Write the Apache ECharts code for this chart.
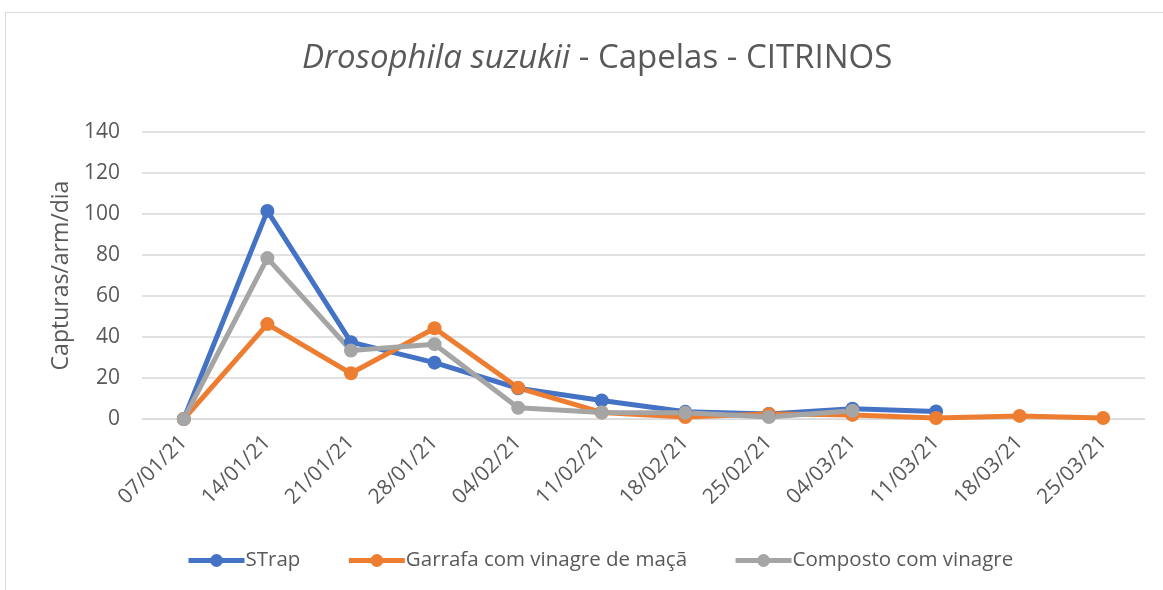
<!DOCTYPE html>
<html>
<head>
<meta charset="utf-8">
<script src="https://cdn.jsdelivr.net/npm/echarts@6/dist/echarts.min.js"></script>
<style>
  html, body { margin: 0; padding: 0; background: #fff; }
  #chart { width: 1163px; height: 590px; }
  .frame { position: absolute; left: 5px; top: 12px; width: 1170px; height: 600px; border: 1px solid #d9d9d9; pointer-events: none; }
</style>
</head>
<body>
<div class="frame"></div>
<div id="chart"></div>
<script>
// datas das recolhas
const dates = ['07/01/21', '14/01/21', '21/01/21', '28/01/21', '04/02/21', '11/02/21',
  '18/02/21', '25/02/21', '04/03/21', '11/03/21', '18/03/21', '25/03/21'];

// capturas por armadilha por dia
const strap = [0, 101.5, 37.5, 27.5, 15, 9, 3.5, 2.5, 5, 3.7, null, null];
const garrafa = [0, 46.3, 22.3, 44.3, 15.2, 3.2, 1, 2.5, 2, 0.5, 1.5, 0.5];
const composto = [0, 78.5, 33.4, 36.5, 5.5, 3.2, 3, 1, 4, null, null, null];

const yTicks = { min: 0, max: 140, interval: 20 };

const txt = '#595959';
const font = '"Open Sans", "Liberation Sans", sans-serif';

const chart = echarts.init(document.getElementById('chart'));

const mkSeries = (name, data, color) => ({
  name: name,
  type: 'line',
  data: data,
  symbol: 'circle',
  symbolSize: 14,
  connectNulls: false,
  lineStyle: { width: 5, color: color },
  itemStyle: { color: color },
  emphasis: { disabled: true }
});

chart.setOption({
  animation: false,
  textStyle: { fontFamily: font },
  title: {
    text: '{i|Drosophila suzukii} - Capelas - CITRINOS',
    left: 297,
    top: 37,
    textStyle: {
      fontFamily: font,
      fontSize: 33,
      fontWeight: 'normal',
      color: txt,
      rich: {
        i: { fontFamily: font, fontSize: 33, fontStyle: 'italic', color: txt }
      }
    }
  },
  legend: {
    top: 545,
    left: 181,
    itemGap: 46,
    itemWidth: 56,
    itemHeight: 16,
    lineStyle: { width: 5 },
    textStyle: { fontFamily: font, fontSize: 20.5, color: txt, padding: [0, 0, 0, -4] },
    data: ['STrap', 'Garrafa com vinagre de maçã', 'Composto com vinagre']
  },
  grid: { left: 142, right: 18, top: 132, bottom: 171 },
  xAxis: {
    type: 'category',
    data: dates,
    boundaryGap: true,
    axisLine: { lineStyle: { color: '#d9d9d9', width: 1 } },
    axisTick: { show: false },
    axisLabel: { rotate: 45, fontSize: 21, color: txt, fontFamily: font, margin: 20 }
  },
  yAxis: {
    type: 'value',
    min: yTicks.min,
    max: yTicks.max,
    interval: yTicks.interval,
    name: 'Capturas/arm/dia',
    nameLocation: 'middle',
    nameGap: 68,
    nameTextStyle: { fontSize: 23, color: txt, fontFamily: font },
    axisLine: { show: false },
    axisTick: { show: false },
    axisLabel: { fontSize: 21, color: txt, fontFamily: font, margin: 22 },
    splitLine: { lineStyle: { color: '#d9d9d9', width: 1.5 } }
  },
  series: [
    mkSeries('STrap', strap, '#4472c4'),
    mkSeries('Garrafa com vinagre de maçã', garrafa, '#ed7d31'),
    mkSeries('Composto com vinagre', composto, '#a5a5a5')
  ]
});
</script>
</body>
</html>
